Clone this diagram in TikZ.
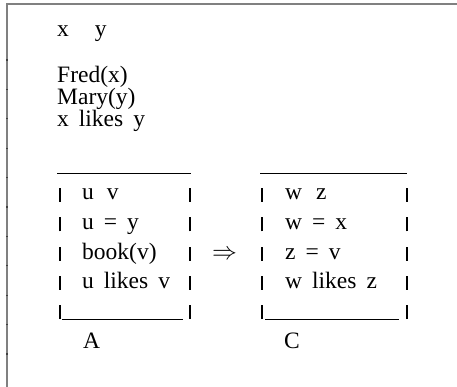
\documentclass[tikz,border=0pt]{standalone}
\usepackage{fontspec}
\setmainfont{Liberation Serif}[WordSpace=1.7]

\begin{document}
\begin{tikzpicture}[x=1pt,y=-1pt,
    every node/.style={font=\fontsize{23.5}{23.5}\selectfont, inner sep=0pt, anchor=base west},
    drsbar/.style={line width=1.1pt, black},
    drsline/.style={line width=1pt, black}]
  % canvas 457 x 387, y runs downward

  \useasboundingbox (0,0) rectangle (457,387);

  % ── frame: left and top edge, with small ticks on the left ──
  \draw[line width=2pt, black!50] (7,387) -- (7,4) -- (457,4);
  \foreach \y in {60,89.4,...,360}{
    \fill[black!75] (6,\y-0.6) rectangle (8,\y+0.6); }

  % ── main DRS ──
  \node (vars) at (57,37) {x\hspace{26pt}y};
  \node (fred) at (57,83) {Fred(x)};
  \node (mary) at (57,105) {Mary(y)};
  \node (likes) at (57,127) {x likes y};

  % ── box A ──
  \draw[drsline] (57,174) -- (191,174);
  \foreach \r in {0,...,4}{
    \draw[drsbar] (60,202+29.3*\r) -- ++(0,-14);
    \draw[drsbar] (190,202+29.3*\r) -- ++(0,-14); }
  \draw[drsline] (62,319) -- (183,319);
  \node (a1) at (82,200) {u\hspace{13pt}v};
  \node (a2) at (82,229.5) {u = y};
  \node (a3) at (82,259) {book(v)};
  \node (a4) at (82,288.5) {u likes v};
  \node (boxA) at (83,348) {A};

  % ── condition arrow ──
  \node (impl) at (212,259) {$\Rightarrow$};

  % ── box C ──
  \draw[drsline] (260,174) -- (407,174);
  \foreach \r in {0,...,4}{
    \draw[drsbar] (262,202+29.3*\r) -- ++(0,-14);
    \draw[drsbar] (407,202+29.3*\r) -- ++(0,-14); }
  \draw[drsline] (265,319) -- (399,319);
  \node (c1) at (285,200) {w\hspace{14pt}z};
  \node (c2) at (285,229.5) {w = x};
  \node (c3) at (285,259) {z = v};
  \node (c4) at (285,288.5) {w likes z};
  \node (boxC) at (284,348) {C};
\end{tikzpicture}
\end{document}
